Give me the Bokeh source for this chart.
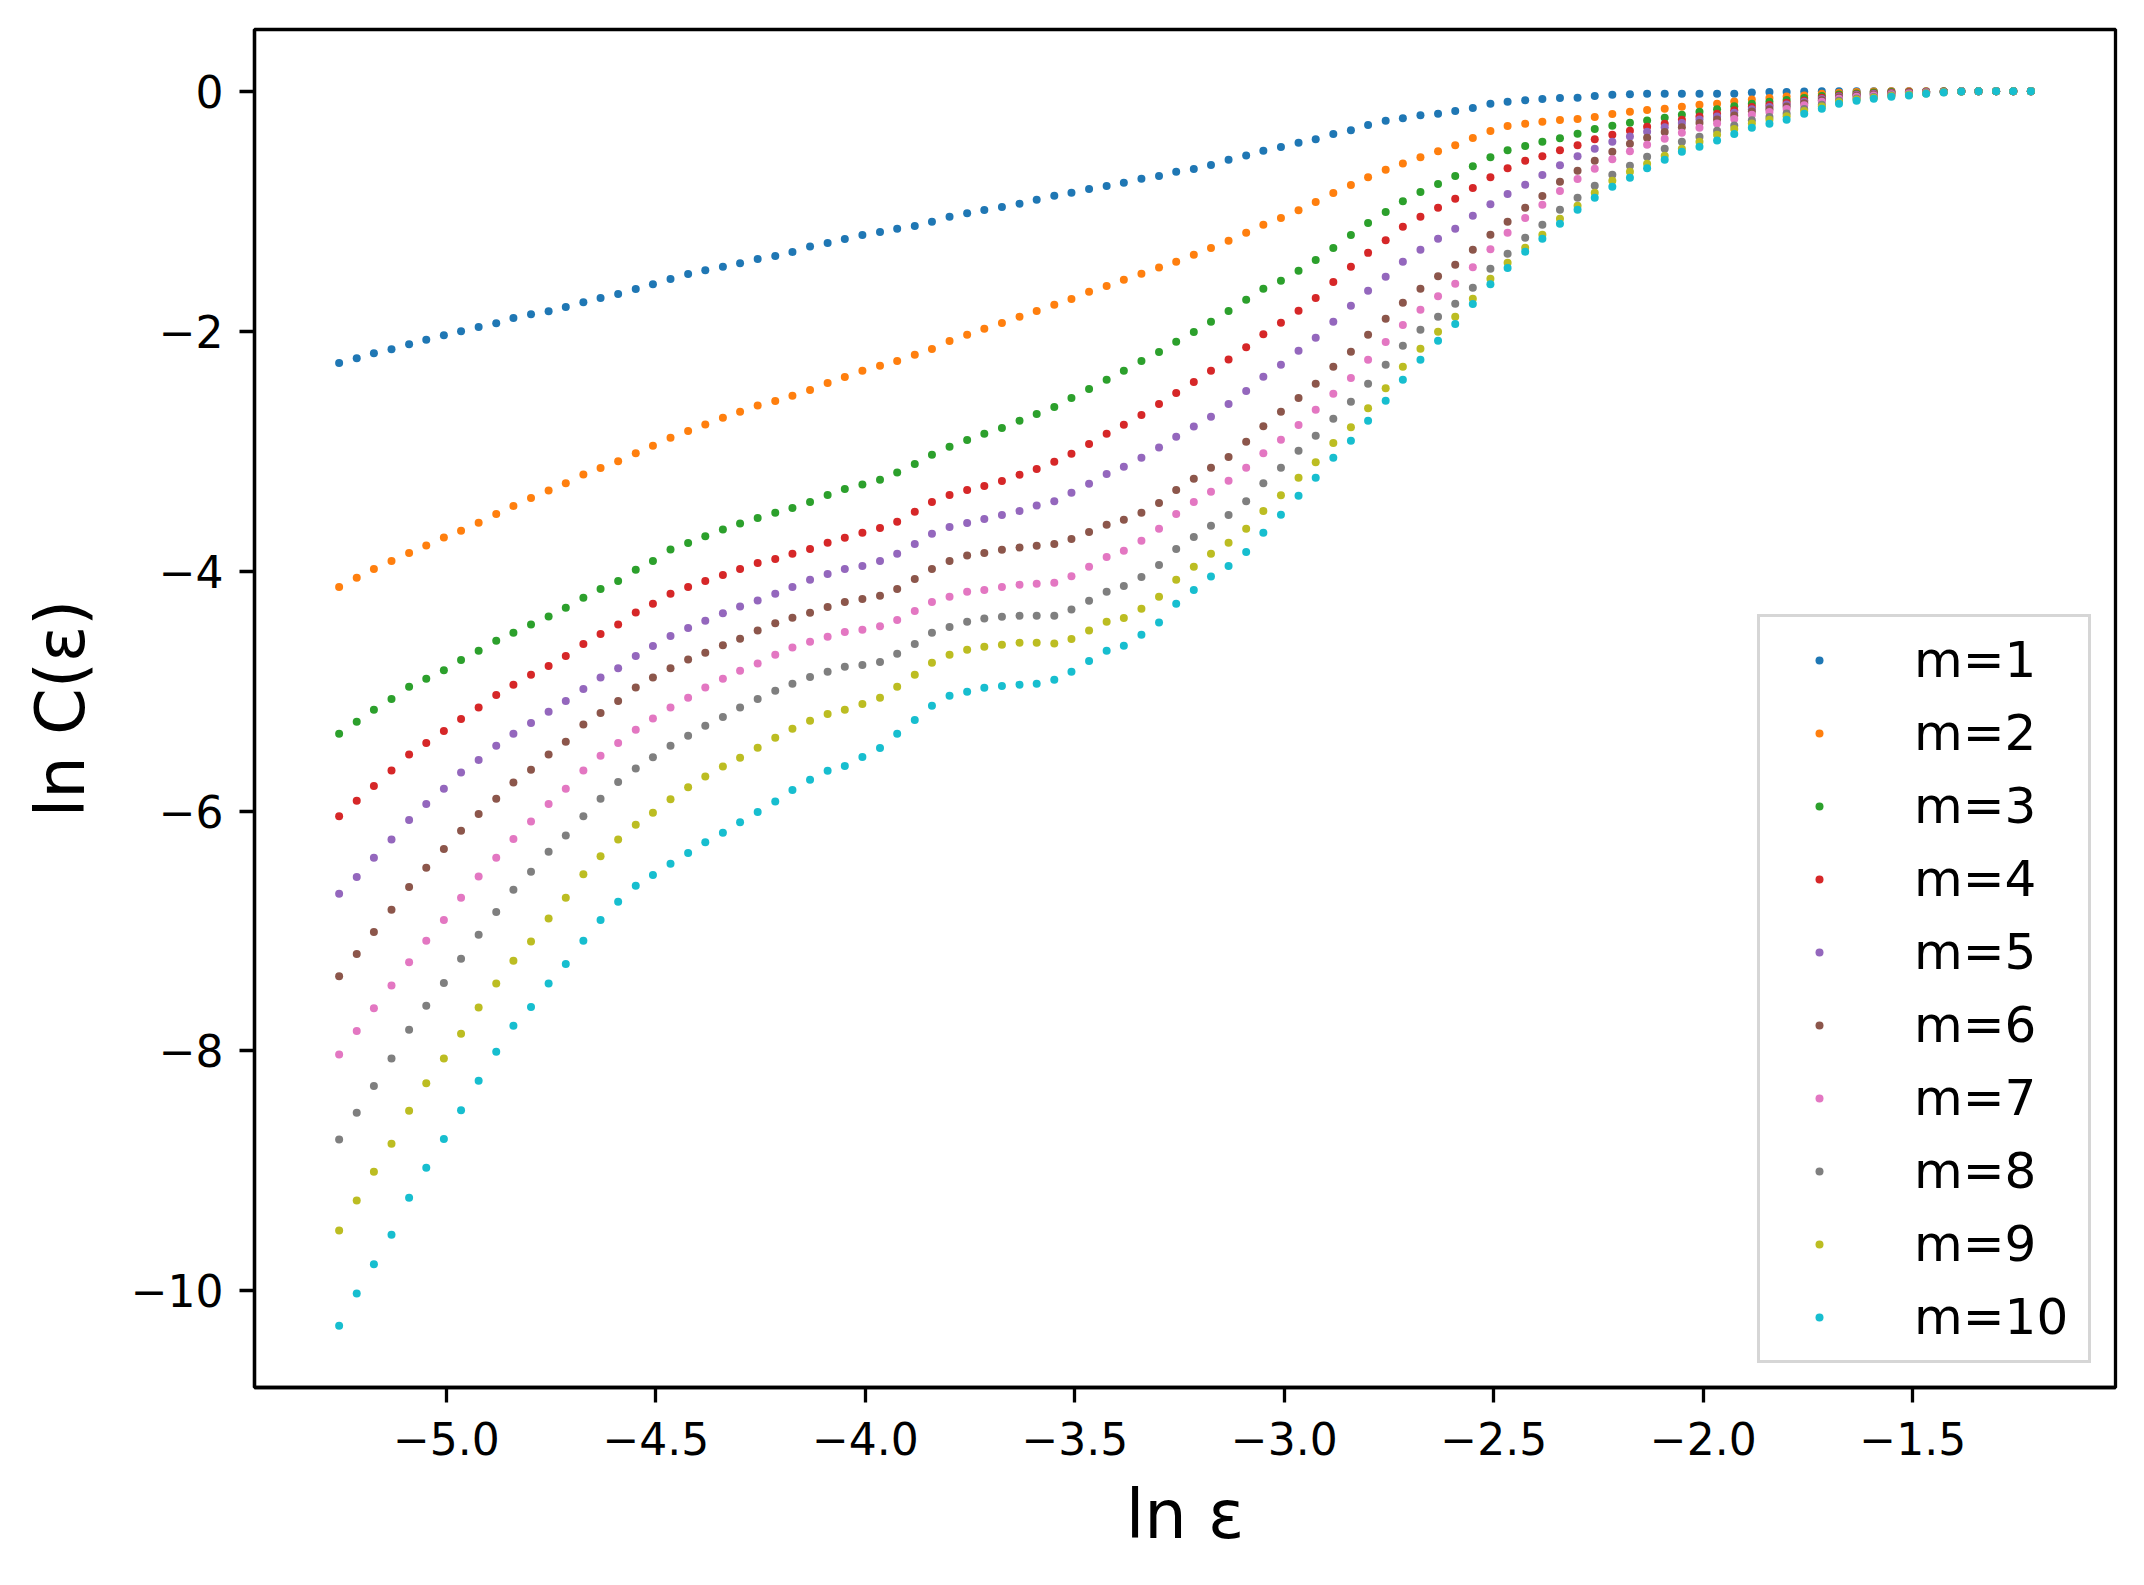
from bokeh.plotting import figure
from bokeh.models import (ColumnDataSource, Range1d, FixedTicker, CustomJSTickFormatter,
                          Legend, LegendItem)
from bokeh.embed import file_html
from bokeh.resources import INLINE

# ---------------- data ----------------
LN_EPS = [
    -5.256, -5.214, -5.173, -5.131, -5.089, -5.048, -5.006, -4.965, -4.923, -4.881,
    -4.840, -4.798, -4.756, -4.715, -4.673, -4.632, -4.590, -4.548, -4.507, -4.465,
    -4.423, -4.382, -4.340, -4.299, -4.257, -4.215, -4.174, -4.132, -4.090, -4.049,
    -4.007, -3.965, -3.924, -3.882, -3.841, -3.799, -3.757, -3.716, -3.674, -3.632,
    -3.591, -3.549, -3.508, -3.466, -3.424, -3.383, -3.341, -3.299, -3.258, -3.216,
    -3.175, -3.133, -3.091, -3.050, -3.008, -2.966, -2.925, -2.883, -2.841, -2.800,
    -2.758, -2.717, -2.675, -2.633, -2.592, -2.550, -2.508, -2.467, -2.425, -2.384,
    -2.342, -2.300, -2.259, -2.217, -2.175, -2.134, -2.092, -2.051, -2.009, -1.967,
    -1.926, -1.884, -1.842, -1.801, -1.759, -1.717, -1.676, -1.634, -1.593, -1.551,
    -1.509, -1.468, -1.426, -1.384, -1.343, -1.301, -1.260, -1.218,
]

LN_C_M1 = [
    -2.266, -2.225, -2.183, -2.150, -2.108, -2.072, -2.033, -2.000, -1.966, -1.933,
    -1.891, -1.858, -1.833, -1.799, -1.758, -1.724, -1.691, -1.649, -1.608, -1.566,
    -1.524, -1.491, -1.463, -1.433, -1.399, -1.374,
    -1.340, -1.295, -1.265, -1.232, -1.199, -1.173, -1.146, -1.124, -1.087, -1.046,
    -1.016, -0.990, -0.964, -0.938, -0.905, -0.871, -0.845, -0.815, -0.789, -0.763,
    -0.730, -0.707, -0.670, -0.648, -0.614, -0.570, -0.536,
    -0.496, -0.465, -0.429, -0.399, -0.357, -0.324, -0.282, -0.246, -0.224, -0.199,
    -0.188, -0.165, -0.140, -0.104, -0.088, -0.074, -0.065, -0.057, -0.054, -0.040,
    -0.029, -0.024, -0.021, -0.021, -0.021, -0.021, -0.021,
    -0.021, -0.010, -0.007, -0.007, -0.002, 0.0, 0.0, 0.0, 0.0, 0.0,
    0.0, 0.0, 0.0, 0.0, 0.0, 0.0, 0.0, 0.0,
]

LN_C_M2 = [
    -4.133, -4.055, -3.983, -3.916, -3.849, -3.787, -3.720, -3.664, -3.597, -3.525,
    -3.458, -3.391, -3.329, -3.268, -3.195, -3.140, -3.084, -3.017, -2.955, -2.888,
    -2.833, -2.777, -2.721, -2.671, -2.620, -2.581,
    -2.539, -2.490, -2.431, -2.382, -2.330, -2.289, -2.248, -2.196, -2.148, -2.081,
    -2.029, -1.980, -1.932, -1.880, -1.831, -1.779, -1.731, -1.671, -1.623, -1.571,
    -1.522, -1.470, -1.422, -1.362, -1.306, -1.247, -1.180,
    -1.113, -1.057, -0.991, -0.924, -0.849, -0.782, -0.716, -0.654, -0.602, -0.549,
    -0.499, -0.449, -0.390, -0.332, -0.290, -0.271, -0.254, -0.240, -0.232, -0.215,
    -0.190, -0.171, -0.157, -0.146, -0.129, -0.112, -0.104,
    -0.085, -0.068, -0.057, -0.043, -0.035, -0.021, -0.013, -0.007, -0.002, 0.0,
    0.0, 0.0, 0.0, 0.0, 0.0, 0.0, 0.0, 0.0,
]

LN_C_M3 = [
    -5.356, -5.255, -5.155, -5.066, -4.965, -4.898, -4.826, -4.742, -4.664, -4.580,
    -4.513, -4.446, -4.379, -4.306, -4.223, -4.150, -4.083, -3.988, -3.916, -3.821,
    -3.765, -3.709, -3.653, -3.603, -3.558, -3.514,
    -3.473, -3.424, -3.365, -3.316, -3.279, -3.238, -3.179, -3.108, -3.030, -2.963,
    -2.907, -2.855, -2.807, -2.747, -2.691, -2.632, -2.557, -2.483, -2.405, -2.330,
    -2.248, -2.174, -2.088, -2.006, -1.921, -1.831, -1.738,
    -1.646, -1.580, -1.496, -1.407, -1.307, -1.199, -1.099, -1.007, -0.916, -0.840,
    -0.774, -0.707, -0.624, -0.549, -0.491, -0.457, -0.421, -0.391, -0.355, -0.315,
    -0.288, -0.263, -0.243, -0.221, -0.196, -0.171, -0.149,
    -0.125, -0.103, -0.088, -0.072, -0.057, -0.039, -0.026, -0.018, -0.011, -0.007,
    -0.005, -0.003, -0.001, 0.0, 0.0, 0.0, 0.0, 0.0,
]

LN_C_M4 = [
    -6.043, -5.914, -5.791, -5.663, -5.529, -5.434, -5.334, -5.233, -5.138, -5.032,
    -4.948, -4.865, -4.792, -4.708, -4.608, -4.524, -4.446, -4.345, -4.273, -4.189,
    -4.133, -4.083, -4.033, -3.983, -3.932, -3.899,
    -3.856, -3.815, -3.763, -3.722, -3.681, -3.640, -3.588, -3.506, -3.424, -3.365,
    -3.324, -3.290, -3.249, -3.197, -3.149, -3.089, -3.022, -2.940, -2.855, -2.780,
    -2.699, -2.606, -2.516, -2.423, -2.330, -2.237, -2.133,
    -2.025, -1.930, -1.830, -1.724, -1.591, -1.463, -1.347, -1.241, -1.130, -1.046,
    -0.971, -0.896, -0.807, -0.716, -0.641, -0.579, -0.541, -0.491, -0.449, -0.399,
    -0.363, -0.329, -0.296, -0.271, -0.237, -0.210, -0.187,
    -0.159, -0.132, -0.115, -0.096, -0.076, -0.055, -0.038, -0.027, -0.019, -0.012,
    -0.009, -0.006, -0.003, 0.0, 0.0, 0.0, 0.0, 0.0,
]

LN_C_M5 = [
    -6.690, -6.551, -6.389, -6.238, -6.076, -5.942, -5.814, -5.680, -5.574, -5.456,
    -5.356, -5.267, -5.172, -5.082, -4.982, -4.887, -4.809, -4.708, -4.625, -4.541,
    -4.474, -4.413, -4.351, -4.295, -4.245, -4.189,
    -4.132, -4.072, -4.024, -3.983, -3.957, -3.916, -3.856, -3.774, -3.689, -3.633,
    -3.599, -3.566, -3.532, -3.499, -3.454, -3.417, -3.346, -3.272, -3.190, -3.130,
    -3.056, -2.970, -2.881, -2.795, -2.714, -2.606, -2.498,
    -2.380, -2.280, -2.163, -2.055, -1.922, -1.788, -1.663, -1.547, -1.421, -1.321,
    -1.230, -1.146, -1.038, -0.941, -0.857, -0.780, -0.699, -0.616, -0.541, -0.479,
    -0.421, -0.376, -0.338, -0.299, -0.265, -0.235, -0.210,
    -0.179, -0.150, -0.131, -0.110, -0.088, -0.064, -0.044, -0.032, -0.023, -0.016,
    -0.012, -0.007, -0.003, 0.0, 0.0, 0.0, 0.0, 0.0,
]

LN_C_M6 = [
    -7.377, -7.193, -7.009, -6.824, -6.634, -6.473, -6.316, -6.165, -6.026, -5.897,
    -5.763, -5.657, -5.529, -5.423, -5.278, -5.183, -5.082, -4.971, -4.887, -4.809,
    -4.736, -4.680, -4.619, -4.563, -4.496, -4.435,
    -4.388, -4.347, -4.299, -4.258, -4.232, -4.206, -4.150, -4.065, -3.983, -3.916,
    -3.871, -3.849, -3.823, -3.804, -3.789, -3.774, -3.733, -3.674, -3.614, -3.573,
    -3.514, -3.432, -3.324, -3.231, -3.138, -3.048, -2.922,
    -2.792, -2.672, -2.558, -2.439, -2.297, -2.172, -2.030, -1.897, -1.763, -1.646,
    -1.541, -1.446, -1.321, -1.196, -1.088, -0.971, -0.874, -0.754, -0.663, -0.579,
    -0.504, -0.438, -0.388, -0.340, -0.299, -0.265, -0.235,
    -0.201, -0.169, -0.149, -0.126, -0.100, -0.075, -0.052, -0.038, -0.028, -0.020,
    -0.015, -0.009, -0.004, 0.0, 0.0, 0.0, 0.0, 0.0,
]

LN_C_M7 = [
    -8.030, -7.835, -7.645, -7.455, -7.260, -7.081, -6.908, -6.724, -6.545, -6.389,
    -6.233, -6.087, -5.942, -5.814, -5.663, -5.540, -5.434, -5.322, -5.228, -5.138,
    -5.055, -4.971, -4.898, -4.831, -4.770, -4.697,
    -4.638, -4.589, -4.548, -4.507, -4.489, -4.459, -4.407, -4.333, -4.258, -4.213,
    -4.172, -4.158, -4.132, -4.113, -4.105, -4.098, -4.042, -3.964, -3.882, -3.830,
    -3.748, -3.648, -3.525, -3.424, -3.339, -3.246, -3.138,
    -3.017, -2.905, -2.783, -2.655, -2.522, -2.391, -2.238, -2.091, -1.949, -1.822,
    -1.708, -1.605, -1.466, -1.316, -1.180, -1.057, -0.946, -0.832, -0.732, -0.646,
    -0.566, -0.499, -0.446, -0.396, -0.346, -0.304, -0.268,
    -0.231, -0.195, -0.172, -0.148, -0.117, -0.088, -0.062, -0.046, -0.035, -0.025,
    -0.019, -0.011, -0.005, 0.0, 0.0, 0.0, 0.0, 0.0,
]

LN_C_M8 = [
    -8.739, -8.516, -8.293, -8.064, -7.824, -7.623, -7.433, -7.232, -7.031, -6.841,
    -6.657, -6.506, -6.339, -6.205, -6.043, -5.897, -5.758, -5.646, -5.551, -5.456,
    -5.373, -5.289, -5.216, -5.138, -5.066, -4.998,
    -4.939, -4.883, -4.839, -4.798, -4.783, -4.757, -4.690, -4.608, -4.515, -4.466,
    -4.422, -4.396, -4.381, -4.373, -4.373, -4.373, -4.321, -4.247, -4.172, -4.124,
    -4.050, -3.949, -3.815, -3.715, -3.622, -3.532, -3.417,
    -3.267, -3.139, -2.997, -2.872, -2.730, -2.589, -2.439, -2.280, -2.122, -1.988,
    -1.880, -1.771, -1.638, -1.480, -1.355, -1.221, -1.113, -0.988, -0.888, -0.788,
    -0.696, -0.621, -0.546, -0.479, -0.421, -0.379, -0.329,
    -0.285, -0.241, -0.214, -0.186, -0.147, -0.113, -0.080, -0.060, -0.047, -0.034,
    -0.026, -0.015, -0.007, -0.001, 0.0, 0.0, 0.0, 0.0,
]

LN_C_M9 = [
    -9.498, -9.247, -9.007, -8.773, -8.499, -8.270, -8.064, -7.857, -7.639, -7.438,
    -7.249, -7.087, -6.897, -6.724, -6.528, -6.378, -6.238, -6.115, -6.015, -5.903,
    -5.803, -5.713, -5.630, -5.557, -5.473, -5.389,
    -5.315, -5.248, -5.192, -5.155, -5.107, -5.055, -4.965, -4.865, -4.764, -4.697,
    -4.656, -4.630, -4.615, -4.597, -4.597, -4.604, -4.567, -4.496, -4.422, -4.392,
    -4.314, -4.214, -4.072, -3.964, -3.856, -3.763, -3.648,
    -3.500, -3.367, -3.222, -3.092, -2.933, -2.800, -2.642, -2.475, -2.297, -2.147,
    -2.005, -1.880, -1.730, -1.563, -1.430, -1.305, -1.196, -1.063, -0.955, -0.846,
    -0.746, -0.671, -0.604, -0.538, -0.479, -0.421, -0.363,
    -0.315, -0.268, -0.238, -0.208, -0.164, -0.127, -0.090, -0.068, -0.054, -0.039,
    -0.030, -0.018, -0.008, -0.001, 0.0, 0.0, 0.0, 0.0,
]

LN_C_M10 = [
    -10.291, -10.023, -9.778, -9.532, -9.225, -8.974, -8.734, -8.494, -8.248, -8.008,
    -7.790, -7.634, -7.438, -7.276, -7.081, -6.908, -6.757, -6.623, -6.534, -6.439,
    -6.350, -6.261, -6.182, -6.093, -6.009, -5.920,
    -5.825, -5.740, -5.665, -5.624, -5.550, -5.475, -5.356, -5.241, -5.122, -5.040,
    -5.006, -4.973, -4.958, -4.947, -4.939, -4.906, -4.839, -4.749, -4.664, -4.623,
    -4.530, -4.429, -4.273, -4.158, -4.046, -3.957, -3.841,
    -3.681, -3.531, -3.372, -3.222, -3.056, -2.914, -2.747, -2.580, -2.405, -2.238,
    -2.080, -1.941, -1.774, -1.608, -1.474, -1.338, -1.230, -1.105, -0.988, -0.888,
    -0.796, -0.721, -0.641, -0.571, -0.504, -0.463, -0.410,
    -0.357, -0.304, -0.271, -0.238, -0.188, -0.146, -0.104, -0.079, -0.063, -0.046,
    -0.035, -0.021, -0.010, -0.002, 0.0, 0.0, 0.0, 0.0,
]

SERIES_LABELS = ["m=1", "m=2", "m=3", "m=4", "m=5", "m=6", "m=7", "m=8", "m=9", "m=10"]
SERIES_VALUES = [LN_C_M1, LN_C_M2, LN_C_M3, LN_C_M4, LN_C_M5,
                 LN_C_M6, LN_C_M7, LN_C_M8, LN_C_M9, LN_C_M10]
X_TICKS = [-5.0, -4.5, -4.0, -3.5, -3.0, -2.5, -2.0, -1.5]
Y_TICKS = [-10, -8, -6, -4, -2, 0]

COLORS = ["#1f77b4", "#ff7f0e", "#2ca02c", "#d62728", "#9467bd",
          "#8c564b", "#e377c2", "#7f7f7f", "#bcbd22", "#17becf"]

FONT = "DejaVu Sans"

# ---------------- figure ----------------
p = figure(width=2128, height=1569, output_backend="svg", toolbar_location=None,
           x_range=Range1d(-5.458, -1.016), y_range=Range1d(-10.806, 0.515),
           min_border_left=254, min_border_right=13, min_border_top=29,
           min_border_bottom=182)

p.xgrid.visible = False
p.ygrid.visible = False
p.background_fill_color = "white"
p.border_fill_color = "white"
p.outline_line_color = "black"
p.outline_line_width = 3.3

items = []
for lab, vals, col in zip(SERIES_LABELS, SERIES_VALUES, COLORS):
    n = min(len(LN_EPS), len(vals))
    src = ColumnDataSource(dict(x=LN_EPS[:n], y=vals[:n]))
    r = p.scatter("x", "y", source=src, size=8, color=col, line_color=None)
    items.append(LegendItem(label=lab, renderers=[r]))

for ax in (p.xaxis[0], p.yaxis[0]):
    ax.axis_line_width = 3.3
    ax.axis_line_color = "black"
    ax.major_tick_line_width = 3.3
    ax.major_tick_line_color = "black"
    ax.major_tick_out = 15
    ax.major_tick_in = 0
    ax.minor_tick_line_color = None
    ax.major_label_text_font = FONT
    ax.major_label_text_font_size = "44px"
    ax.major_label_text_color = "black"
    ax.axis_label_text_font = FONT
    ax.axis_label_text_font_size = "67px"
    ax.axis_label_text_font_style = "normal"
    ax.axis_label_text_color = "black"

p.xaxis[0].ticker = FixedTicker(ticks=X_TICKS)
p.yaxis[0].ticker = FixedTicker(ticks=Y_TICKS)
p.xaxis[0].formatter = CustomJSTickFormatter(
    code="return tick.toFixed(1).replace('-', '\u2212');")
p.yaxis[0].formatter = CustomJSTickFormatter(
    code="return tick.toFixed(0).replace('-', '\u2212');")
p.xaxis[0].major_label_standoff = 19
p.yaxis[0].major_label_standoff = 16
p.xaxis[0].axis_label = "ln \u03b5"
p.yaxis[0].axis_label = "ln C(\u03b5)"
p.xaxis[0].axis_label_standoff = 18
p.yaxis[0].axis_label_standoff = 28

legend = Legend(items=items, location="bottom_right", margin=24)
legend.label_text_font = FONT
legend.label_text_font_size = "50px"
legend.label_text_color = "black"
legend.label_text_baseline = "middle"
legend.glyph_width = 90
legend.glyph_height = 20
legend.label_height = 58
legend.label_width = 160
legend.label_standoff = 50
legend.spacing = 15
legend.padding = 14
legend.border_line_color = "#cccccc"
legend.border_line_width = 3.5
legend.border_line_alpha = 0.8
legend.background_fill_color = "white"
legend.background_fill_alpha = 0.8
p.add_layout(legend)

open("out.html", "w").write(file_html(p, INLINE))
